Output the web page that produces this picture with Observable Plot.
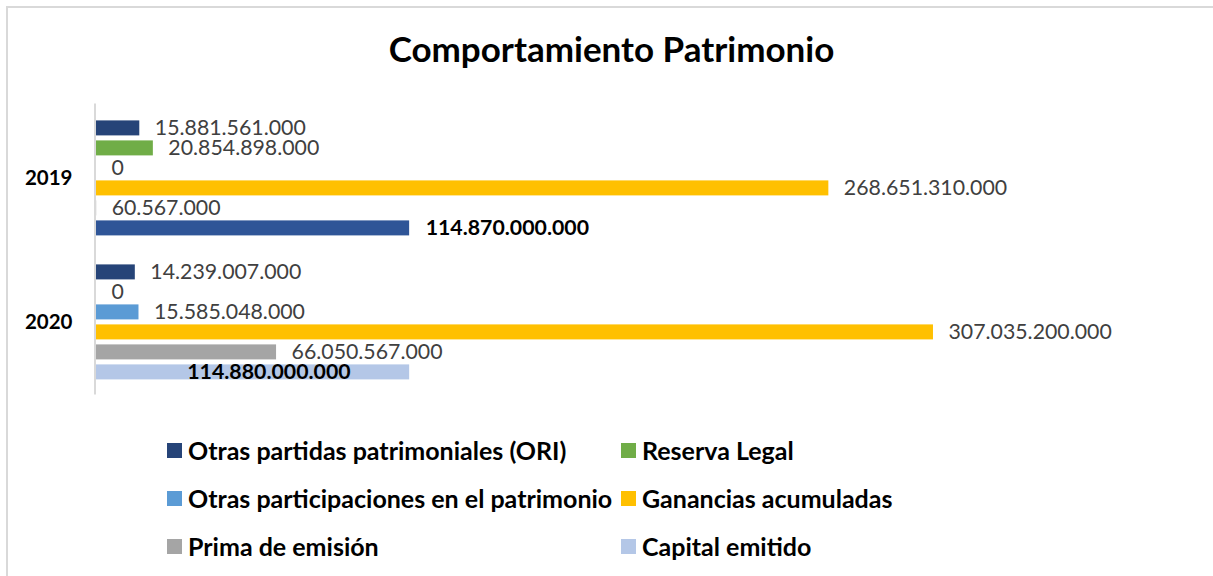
<!DOCTYPE html>
<html>
<head>
<meta charset="utf-8">
<script src="https://cdn.jsdelivr.net/npm/d3@7"></script>
<script src="https://cdn.jsdelivr.net/npm/@observablehq/plot@0.6"></script>
<style>
  html, body { margin: 0; padding: 0; background: #fff; }
  body { width: 1213px; height: 576px; position: relative; overflow: hidden; font-family: Lato, "Noto Sans", sans-serif; }
  #frame { position: absolute; left: 6px; top: 6px; width: 1400px; height: 700px; border-top: 2px solid #d9d9d9; border-left: 2px solid #d9d9d9; box-sizing: border-box; }
  #title { position: absolute; left: 0; width: 1223px; top: 27px; text-align: center; font-weight: 700; font-size: 35px; line-height: 42px; color: #000; }
  #chart { position: absolute; left: 0; top: 90px; }
  .leg { position: absolute; display: flex; align-items: center; font-weight: 700; font-size: 25px; color: #000; white-space: nowrap; height: 30px; }
  .leg .sw { width: 15px; height: 15px; margin-right: 6px; flex: none; }
</style>
</head>
<body>
<div id="frame"></div>
<div id="title">Comportamiento Patrimonio</div>
<div id="chart"></div>
<div id="legend"></div>
<script>
// ---- data ----
const years = ["2019", "2020"];
const series = [
  "Otras partidas patrimoniales (ORI)",
  "Reserva Legal",
  "Otras participaciones en el patrimonio",
  "Ganancias acumuladas",
  "Prima de emisión",
  "Capital emitido"
];
const values2019 = [15881561000, 20854898000, 0, 268651310000, 60567000, 114870000000];
const values2020 = [14239007000, 0, 15585048000, 307035200000, 66050567000, 114880000000];

// ---- styles ----
const seriesColors = ["#264478", "#70AD47", "#5B9BD5", "#FFC000", "#A5A5A5", "#B4C7E7"];
const capital2019Color = "#2F5597";

const fmt = d3.formatLocale({decimal: ",", thousands: ".", grouping: [3], currency: ["$", ""]}).format(",d");

const valuesByYear = {"2019": values2019, "2020": values2020};
const rows = years.flatMap(yr => series.map((s, j) => ({
  year: yr,
  series: s,
  value: valuesByYear[yr][j],
  color: (yr === "2019" && s === "Capital emitido") ? capital2019Color : seriesColors[j]
})));

const isCapital = d => d.series === "Capital emitido";
const isInside = d => d.year === "2020" && isCapital(d);

const chart = Plot.plot({
  width: 1213,
  height: 320,
  marginTop: 25.6,
  marginBottom: 24.6,
  marginLeft: 96,
  marginRight: 26.6,
  style: {fontFamily: "Lato, 'Noto Sans', sans-serif", background: "transparent"},
  x: {domain: [0, 400e9], axis: null},
  y: {domain: series, axis: null, paddingInner: 0.23, paddingOuter: 0.115},
  fy: {domain: years, axis: null, paddingInner: 0.138, paddingOuter: 0},
  color: {type: "identity"},
  marks: [
    Plot.ruleX([0], {stroke: "#d9d9d9", strokeWidth: 2, insetTop: -12.6, insetBottom: -10.5, dx: -1.5}),
    Plot.barX(rows, {x: "value", y: "series", fy: "year", fill: "color"}),
    Plot.text(rows.filter(d => !isCapital(d)), {
      x: "value", y: "series", fy: "year", text: d => fmt(d.value),
      textAnchor: "start", dx: 15, fill: "#404040", fontSize: 21.3, lineHeight: 0.9
    }),
    Plot.text(rows.filter(d => isCapital(d) && !isInside(d)), {
      x: "value", y: "series", fy: "year", text: d => fmt(d.value),
      textAnchor: "start", dx: 16, fill: "#000", fontSize: 21.3, fontWeight: "bold"
    }),
    Plot.text(rows.filter(isInside), {
      x: "value", y: "series", fy: "year", text: d => fmt(d.value),
      textAnchor: "end", dx: -59, fill: "#000", fontSize: 21.3, fontWeight: "bold"
    }),
    Plot.text(years, {
      fy: d => d, text: d => d, frameAnchor: "left", textAnchor: "end", dx: -24,
      fill: "#000", fontSize: 20.5, fontWeight: "bold"
    })
  ]
});
document.getElementById("chart").appendChild(chart);

// ---- legend ----
const legendCols = [167, 621];
const legendRows = [450, 498, 546];
const legend = document.getElementById("legend");
series.forEach((s, i) => {
  const el = document.createElement("div");
  el.className = "leg";
  el.style.left = legendCols[i % 2] + "px";
  el.style.top = (legendRows[Math.floor(i / 2)] - 15) + "px";
  const sw = document.createElement("span");
  sw.className = "sw";
  sw.style.background = seriesColors[i];
  const tx = document.createElement("span");
  tx.textContent = s;
  el.appendChild(sw);
  el.appendChild(tx);
  legend.appendChild(el);
});
</script>
</body>
</html>
